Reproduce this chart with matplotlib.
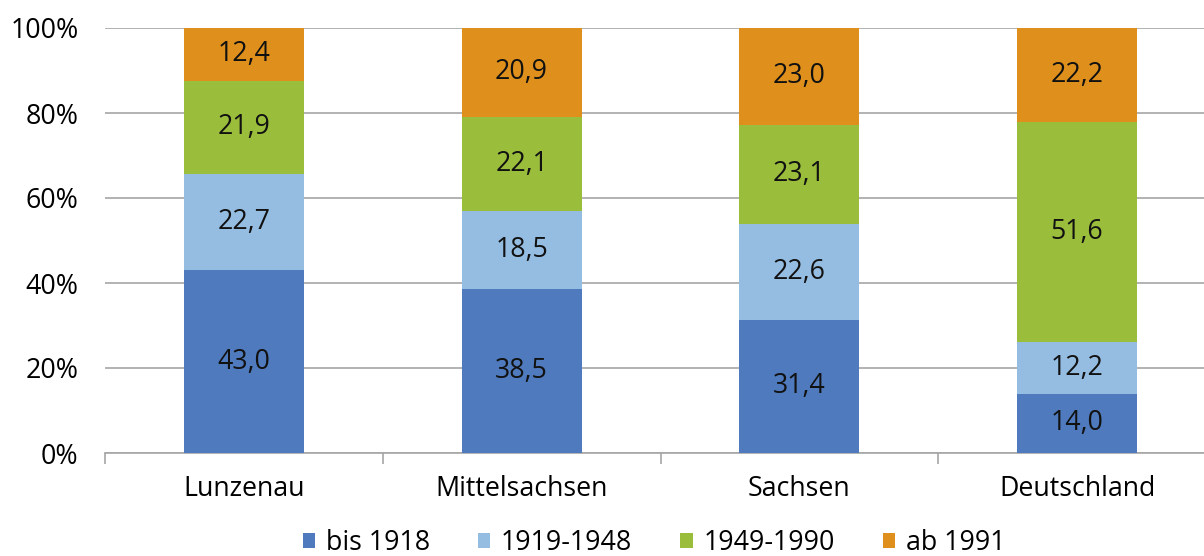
import matplotlib.pyplot as plt
import numpy as np

regions = ["Lunzenau", "Mittelsachsen", "Sachsen", "Deutschland"]
series = ["bis 1918", "1919-1948", "1949-1990", "ab 1991"]
bis_1918 = [43.0, 38.5, 31.4, 14.0]
y1919_1948 = [22.7, 18.5, 22.6, 12.2]
y1949_1990 = [21.9, 22.1, 23.1, 51.6]
ab_1991 = [12.4, 20.9, 23.0, 22.2]
colors = ["#4F7BBE", "#95BDE2", "#9ABD3C", "#DF901C"]

plt.rcParams['font.family'] = ['Open Sans', 'DejaVu Sans']
fs = 19.3

fig = plt.figure(figsize=(12.04, 5.56), dpi=100)
ax = fig.add_axes([105/1204, 103/556, 1111/1204, 425/556])

x = np.arange(len(regions))
bottom = np.zeros(len(regions))
for vals, name, col in zip([bis_1918, y1919_1948, y1949_1990, ab_1991], series, colors):
    vals = np.array(vals)
    ax.bar(x, vals, 0.432, bottom=bottom, color=col, label=name, zorder=3)
    for xi, b, v in zip(x, bottom, vals):
        ax.text(xi, b + v/2, f"{v:.1f}".replace(".", ","), ha='center', va='center',
                fontsize=fs, color='#111111', zorder=4)
    bottom += vals

ax.set_xlim(-0.5, 3.5)
ax.set_ylim(0, 100)
ax.set_yticks(np.arange(0, 101, 20))
ax.set_yticklabels([f"{t}%" for t in range(0, 101, 20)])
ax.yaxis.grid(True, color='#A6A6A6', linewidth=1.2, zorder=0)
ax.set_xticks(x)
ax.set_xticklabels(regions)
ax.set_xticks(np.arange(-0.5, 3.6, 1), minor=True)
ax.tick_params(axis='x', which='major', length=0, labelsize=fs, pad=16)
ax.tick_params(axis='x', which='minor', length=8, color='#A6A6A6', width=1.2)
ax.tick_params(axis='y', length=0, labelsize=fs, pad=19)
for s in ['left', 'right', 'top']:
    ax.spines[s].set_visible(False)
ax.spines['bottom'].set_color('#A6A6A6')
ax.spines['bottom'].set_linewidth(1.2)
ax.set_axisbelow(True)

fig.legend(loc='center left', bbox_to_anchor=(303/1204, 1 - 543/556), ncol=4, frameon=False,
           fontsize=fs, handlelength=0.45, handleheight=0.45, handletextpad=0.4,
           columnspacing=1.8, borderpad=0, borderaxespad=0)

fig.savefig("out.png", dpi=100)
